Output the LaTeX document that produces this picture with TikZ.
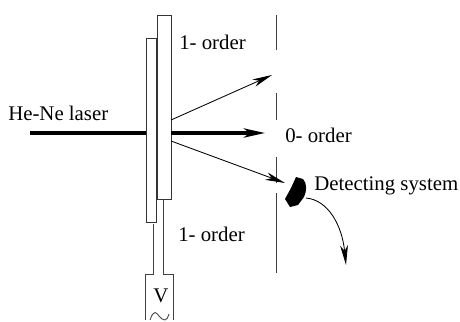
\documentclass[tikz,border=0pt]{standalone}
\usepackage{fontspec}
\setmainfont{Liberation Serif}
\usetikzlibrary{arrows.meta,positioning}

\begin{document}
\begin{tikzpicture}[
    x=0.025cm, y=-0.025cm,
    plate/.style={rectangle, draw=black!80, fill=white, line width=0.6pt, inner sep=0pt, anchor=north west},
    wire/.style={draw=black!75, line width=0.6pt},
    screen/.style={draw=black!75, line width=0.6pt},
    beam/.style={-{Stealth[length=14pt,width=5.5pt,inset=4pt]}, line width=0.6pt},
    thickbeam/.style={-{Stealth[length=15pt,width=6.5pt,inset=4pt]}, line width=2.4pt},
    lbl/.style={inner sep=0pt, font=\fontsize{14.8pt}{16pt}\selectfont, anchor=base west}
]
\useasboundingbox (0,0) rectangle (460,322);

% plates
\node[plate, minimum width=10.5*0.025cm, minimum height=184*0.025cm] (plateA) at (145.5,38) {};
\node[plate, minimum width=14*0.025cm, minimum height=184*0.025cm] (plateB) at (157,15) {};

% voltage box
\coordinate (stemA) at (153.7,224);
\coordinate (stemAend) at (153.7,274);
\coordinate (stemB) at (163,199);
\coordinate (stemBend) at (163,274);
\draw[wire] (stemA) -- (stemAend) -- (145.7,274) -- (145.7,320);
\draw[wire] (stemB) -- (stemBend) -- (173,274) -- (173,320);
\draw[wire] (150,320) .. controls (152,315) and (153,312.5) .. (155,312.5) .. controls (158,312.5) and (160,320) .. (165,320) .. controls (167,320) and (168,317) .. (169,314);
\node[lbl] (volt) at (153,302) {V};

% screen
\coordinate (scrA) at (276.7,15);
\coordinate (scrB) at (276.7,50);
\coordinate (scrC) at (276.7,93);
\coordinate (scrD) at (276.7,120);
\coordinate (scrE) at (276.7,157);
\coordinate (scrF) at (276.7,183);
\coordinate (scrG) at (276.7,193);
\coordinate (scrH) at (276.7,273);
\draw[screen] (scrA) -- (scrB);
\draw[screen] (scrC) -- (scrD);
\draw[screen] (scrE) -- (scrF);
\draw[screen] (scrG) -- (scrH);

% detector
\fill[black] (296,177) -- (303,179) .. controls (307,183) and (307,191) .. (304,197) -- (298,205) -- (290,207) -- (285,199) -- (291,188) -- cycle;

% beams
\coordinate (laserS) at (30,133);
\coordinate (zeroS) at (171,133);
\coordinate (zeroE) at (265,133);
\coordinate (upS) at (171,120);
\coordinate (upE) at (272,75);
\coordinate (lowS) at (171,141);
\coordinate (lowE) at (285,183);
\coordinate (curveS) at (306,198);
\coordinate (curveE) at (346,265);
\draw[line width=3.4pt] (laserS) -- (plateA.west |- laserS);
\draw[thickbeam] (zeroS) -- (zeroE);
\draw[beam] (upS) -- (upE);
\draw[beam] (lowS) -- (lowE);
\draw[beam] (curveS) .. controls (328,200) and (342,225) .. (curveE);

% labels
\node[lbl] (laser) at (8,120) {He-Ne laser};
\node[lbl] (orderA) at (179,49) {1- order};
\node[lbl] (orderB) at (285,142) {0- order};
\node[lbl] (orderC) at (178,241.5) {1- order};
\node[lbl] (detect) at (314,190) {Detecting system};
\end{tikzpicture}
\end{document}
